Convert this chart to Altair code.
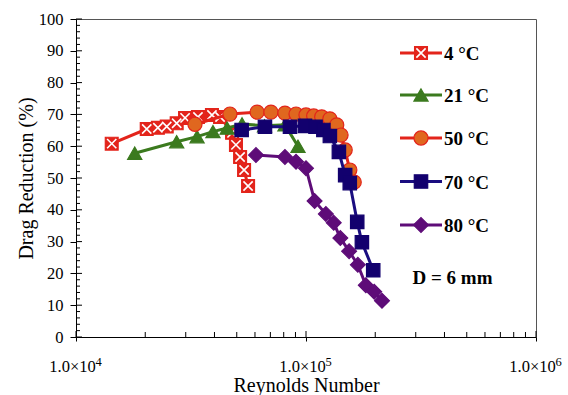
import altair as alt
import pandas as pd

FONT = "Liberation Serif"

series = ["4 °C", "21 °C", "50 °C", "70 °C", "80 °C"]

re_4 = [14300, 20300, 22700, 24800, 27400, 29800, 33900, 39000, 42300, 47700, 49600, 51700, 53800, 56000]
dr_4 = [60.8, 65.4, 65.8, 66.2, 67.2, 68.9, 69.2, 69.8, 69.2, 64.2, 60.4, 56.6, 52.5, 47.5]

re_21 = [18000, 27400, 33600, 39400, 45400, 52700, 66000, 81000, 92300]
dr_21 = [57.8, 61.4, 63.0, 64.6, 65.7, 67.0, 66.4, 66.7, 60.0]

re_50 = [32900, 46700, 61300, 70400, 81000, 90500, 100000, 108000, 117000, 127000, 136000, 142000, 148000, 155000, 162000]
dr_50 = [66.9, 70.1, 70.7, 70.7, 70.4, 70.1, 69.8, 69.5, 69.2, 68.6, 66.7, 63.5, 58.8, 52.5, 48.7]

re_70 = [52500, 66300, 85200, 99000, 110000, 119000, 127000, 139000, 148000, 155000, 167000, 175000, 196000]
dr_70 = [65.1, 66.1, 66.1, 66.4, 66.1, 65.1, 63.2, 58.2, 50.9, 48.4, 36.2, 29.8, 21.0]

re_80 = [60600, 81000, 90500, 100000, 109000, 122000, 132000, 141000, 154000, 168000, 182000, 198000, 214000]
dr_80 = [57.2, 56.6, 55.1, 53.1, 42.8, 38.7, 35.9, 31.1, 27.0, 22.7, 16.3, 14.2, 11.4]

x_major = [10000, 100000, 1000000]
x_labels = ["1.0×10", "1.0×10", "1.0×10"]
x_exponents = ["4", "5", "6"]
x_minor = [k * 10000 for k in range(2, 10)] + [k * 100000 for k in range(2, 10)]
y_major = list(range(0, 101, 10))
y_minor = [v for v in range(2, 100, 2) if v % 10]

styles = {
    "4 °C": dict(line="#E3241B", shape="square", fill="#E3241B", stroke="#E3241B", size=165, xover=True),
    "21 °C": dict(line="#3B7A1E", shape="triangle-up", fill="#3B7A1E", stroke="#3B7A1E", size=200, xover=False),
    "50 °C": dict(line="#E3241B", shape="circle", fill="#E0671F", stroke="#E3241B", size=200, xover=False),
    "70 °C": dict(line="#1A0D80", shape="square", fill="#12006E", stroke="#12006E", size=180, xover=False),
    "80 °C": dict(line="#5E0C78", shape="diamond", fill="#5E0C78", stroke="#5E0C78", size=220, xover=False),
}
XPATH = "M-0.72,-0.72L0.72,0.72M-0.72,0.72L0.72,-0.72"

data = {"4 °C": (re_4, dr_4), "21 °C": (re_21, dr_21), "50 °C": (re_50, dr_50),
        "70 °C": (re_70, dr_70), "80 °C": (re_80, dr_80)}

W, H = 460, 318

xscale = alt.Scale(type="log", domain=[10000, 1000000])
yscale = alt.Scale(domain=[0, 100], nice=False)

label_expr = ("datum.value == 10000 ? '%s' : datum.value == 100000 ? '%s' : '%s'"
              % tuple(x_labels))

xaxis = alt.Axis(values=x_major, labelExpr=label_expr, title="Reynolds Number",
                 labelFont=FONT, labelFontSize=16.5, labelColor="black", labelPadding=17,
                 labelOffset=-4,
                 titleFont=FONT, titleFontSize=20, titleFontWeight="normal", titleColor="black",
                 titlePadding=1, tickSize=4, tickColor="black", domainColor="black",
                 grid=False, labelFlush=False, labelOverlap=False)
yaxis = alt.Axis(values=y_major, title="Drag Reduction (%)",
                 labelFont=FONT, labelFontSize=16.5, labelColor="black", labelPadding=7,
                 titleFont=FONT, titleFontSize=20, titleFontWeight="normal", titleColor="black",
                 titlePadding=2, tickSize=6, tickColor="black", domainColor="black", grid=False,
                 labelOverlap=False, labelFlush=False)

X = alt.X("Re:Q", scale=xscale, axis=xaxis)
Y = alt.Y("DR:Q", scale=yscale, axis=yaxis)

layers = []

ym = pd.DataFrame({"DR": y_minor})
layers.append(alt.Chart(ym).mark_rule(color="black", strokeWidth=1).encode(
    y=Y, x=alt.value(0), x2=alt.value(4)))
yM = pd.DataFrame({"DR": y_major})
layers.append(alt.Chart(yM).mark_rule(color="black", strokeWidth=1).encode(
    y=Y, x=alt.value(0), x2=alt.value(6)))
xm = pd.DataFrame({"Re": x_minor})
layers.append(alt.Chart(xm).mark_rule(color="black", strokeWidth=1).encode(
    x=X, y=alt.value(H), y2=alt.value(H - 5)))
xM = pd.DataFrame({"Re": x_major, "exp": x_exponents})
layers.append(alt.Chart(xM).mark_rule(color="black", strokeWidth=1).encode(
    x=X, y=alt.value(H), y2=alt.value(H - 6)))
layers.append(alt.Chart(xM).mark_text(align="left", baseline="top", font=FONT, fontSize=12.5,
                                      color="black", dx=19.5).encode(
    x=X, y=alt.value(H + 19), text="exp:N"))

for s in series:
    r, d = data[s]
    st = styles[s]
    df = pd.DataFrame({"Re": r, "DR": d, "i": list(range(len(r)))})
    b = alt.Chart(df).encode(x=X, y=Y)
    layers.append(b.mark_line(color=st["line"], strokeWidth=3).encode(order="i:Q"))
    layers.append(b.mark_point(shape=st["shape"], filled=True, fill=st["fill"], stroke=st["stroke"],
                               strokeWidth=1.2, size=st["size"], opacity=1))
    if st["xover"]:
        layers.append(b.mark_point(shape=XPATH, filled=False, stroke="white", strokeWidth=1.6,
                                   size=st["size"], opacity=1))

one = pd.DataFrame({"a": [0]})
leg_y = [34, 76, 119, 162.5, 206]
for s, yy in zip(series, leg_y):
    st = styles[s]
    c = alt.Chart(one)
    layers.append(c.mark_rule(color=st["line"], strokeWidth=3).encode(
        x=alt.value(324), x2=alt.value(366), y=alt.value(yy)))
    layers.append(c.mark_point(shape=st["shape"], filled=True, fill=st["fill"], stroke=st["stroke"],
                               strokeWidth=1.2, size=st["size"], opacity=1).encode(
        x=alt.value(345), y=alt.value(yy)))
    if st["xover"]:
        layers.append(c.mark_point(shape=XPATH, filled=False, stroke="white", strokeWidth=1.6,
                                   size=st["size"], opacity=1).encode(x=alt.value(345), y=alt.value(yy)))
    layers.append(c.mark_text(text=s, align="left", baseline="middle", font=FONT, fontSize=19,
                              fontWeight="bold", color="black").encode(x=alt.value(368), y=alt.value(yy + 1)))

layers.append(alt.Chart(one).mark_text(text="D = 6 mm", align="center", baseline="middle", font=FONT,
                                       fontSize=19, fontWeight="bold", color="black").encode(
    x=alt.value(376.5), y=alt.value(259)))

chart = alt.layer(*layers).properties(
    width=W, height=H,
    autosize=alt.AutoSizeParams(type="none"),
    padding={"left": 76, "top": 19, "right": 32, "bottom": 58},
    background="white",
).configure_view(stroke="#555", strokeWidth=1)

chart.save("out.html", embed_options={"renderer": "svg", "actions": False})
